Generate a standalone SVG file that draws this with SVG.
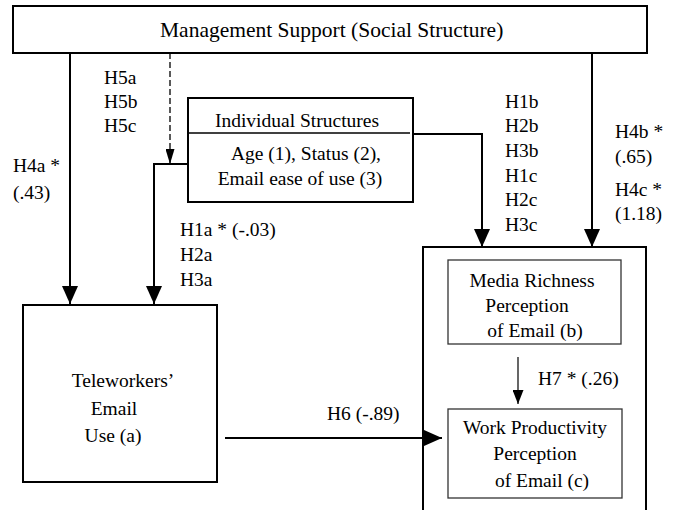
<svg xmlns="http://www.w3.org/2000/svg" width="675" height="510" viewBox="0 0 675 510">
<style>
  text { font-family: "Liberation Serif", "Times New Roman", serif; font-size: 19.5px; fill: #000; }
  .mid { text-anchor: middle; }
  .title { font-size: 21.5px; }
  .box { fill: #fff; stroke: #000; stroke-width: 2; }
  .inner { fill: #fff; stroke: #333; stroke-width: 1.3; }
  .line { fill: none; stroke: #000; stroke-width: 2; }
  .thin { fill: none; stroke: #000; stroke-width: 1.2; }
  .dash { fill: none; stroke: #000; stroke-width: 1.3; stroke-dasharray: 6 3; }
</style>
<defs>
  <marker id="big" markerUnits="userSpaceOnUse" markerWidth="18" markerHeight="16" refX="18" refY="8" orient="auto">
    <path d="M0,0 L18,8 L0,16 Z" fill="#000"/>
  </marker>
  <marker id="small" markerUnits="userSpaceOnUse" markerWidth="14" markerHeight="11" refX="14" refY="5.5" orient="auto">
    <path d="M0,0 L14,5.5 L0,11 Z" fill="#000"/>
  </marker>
  <marker id="dashhead" markerUnits="userSpaceOnUse" markerWidth="15" markerHeight="9" refX="15" refY="4.5" orient="auto">
    <path d="M0,0 L15,4.5 L0,9 Z" fill="#000"/>
  </marker>
</defs>

<g id="management">
  <rect class="box" x="13" y="6" width="634" height="47"/>
  <text x="160" y="37" class="title">Management Support (Social Structure)</text>
</g>

<g id="individual">
  <rect class="box" x="188" y="98" width="225" height="104" stroke-width="1.6"/>
  <line x1="188" y1="133" x2="410" y2="133" stroke="#000" stroke-width="1.3"/>
  <text x="297" y="127" class="mid">Individual Structures</text>
  <text x="306" y="160" class="mid">Age (1), Status (2),</text>
  <text x="300" y="185" class="mid">Email ease of use (3)</text>
</g>

<g id="teleworkers">
  <rect class="box" x="23" y="305" width="194" height="177"/>
  <text x="123" y="387" class="mid">Teleworkers’</text>
  <text x="114" y="415" class="mid">Email</text>
  <text x="113" y="442" class="mid">Use (a)</text>
</g>

<g id="outcomes">
  <rect class="box" x="423" y="247" width="223" height="275"/>
</g>

<g id="media-richness">
  <rect class="inner" x="448" y="260" width="173" height="84"/>
  <text x="532" y="287" class="mid">Media Richness</text>
  <text x="527" y="312" class="mid">Perception</text>
  <text x="535" y="337" class="mid">of Email (b)</text>
</g>

<g id="work-productivity">
  <rect class="inner" x="448" y="409" width="174" height="89"/>
  <text x="535" y="434" class="mid">Work Productivity</text>
  <text x="535" y="460" class="mid">Perception</text>
  <text x="542" y="487" class="mid">of Email (c)</text>
</g>

<g id="connectors">
  <line class="line" x1="70" y1="53" x2="70" y2="304" marker-end="url(#big)"/>
  <line class="dash" x1="170" y1="53" x2="170" y2="164" marker-end="url(#dashhead)"/>
  <polyline class="line" points="188,164 154,164 154,304" marker-end="url(#big)"/>
  <polyline class="line" points="413,134 482,134 482,247" marker-end="url(#big)"/>
  <line class="line" x1="592" y1="53" x2="592" y2="247" marker-end="url(#big)"/>
  <line class="line" x1="225" y1="438" x2="442" y2="438" marker-end="url(#big)"/>
  <line class="thin" x1="518" y1="357" x2="518" y2="404" marker-end="url(#small)"/>
</g>

<g id="labels">
  <text x="104" y="84">H5a</text>
  <text x="104" y="108">H5b</text>
  <text x="104" y="132">H5c</text>
  <text x="13" y="172">H4a *</text>
  <text x="13" y="199">(.43)</text>
  <text x="180" y="236">H1a * (-.03)</text>
  <text x="180" y="261">H2a</text>
  <text x="180" y="286">H3a</text>
  <text x="505" y="108">H1b</text>
  <text x="505" y="132">H2b</text>
  <text x="505" y="157">H3b</text>
  <text x="505" y="182">H1c</text>
  <text x="505" y="206">H2c</text>
  <text x="505" y="231">H3c</text>
  <text x="615" y="138">H4b *</text>
  <text x="615" y="163">(.65)</text>
  <text x="615" y="196">H4c *</text>
  <text x="615" y="220">(1.18)</text>
  <text x="327" y="420">H6 (-.89)</text>
  <text x="538" y="385">H7 * (.26)</text>
</g>
</svg>
